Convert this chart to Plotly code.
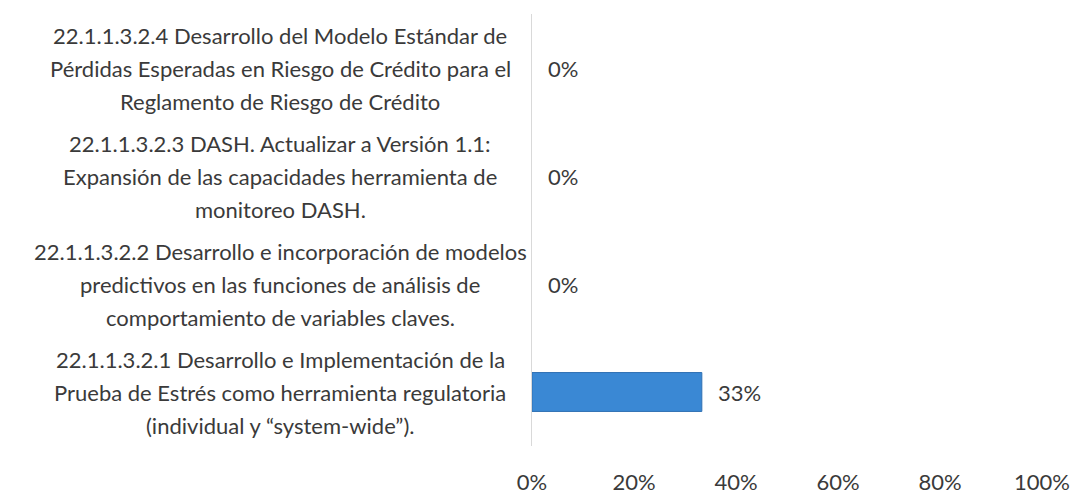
import plotly.graph_objects as go

categories = [
    "22.1.1.3.2.1 Desarrollo e Implementación de la<br>Prueba de Estrés como herramienta regulatoria<br>(individual y “system-wide”).",
    "22.1.1.3.2.2 Desarrollo e incorporación de modelos<br>predictivos en las funciones de análisis de<br>comportamiento de variables claves.",
    "22.1.1.3.2.3 DASH. Actualizar a Versión 1.1:<br>Expansión de las capacidades herramienta de<br>monitoreo DASH.",
    "22.1.1.3.2.4 Desarrollo del Modelo Estándar de<br>Pérdidas Esperadas en Riesgo de Crédito para el<br>Reglamento de Riesgo de Crédito",
]
values = [33.3, 0, 0, 0]
value_labels = ["33%", "0%", "0%", "0%"]
tick_vals = [0, 20, 40, 60, 80, 100]
tick_text = ["0%", "20%", "40%", "60%", "80%", "100%"]

FONT = "Lato"
TXT = "#3a3a3a"

fig = go.Figure()
fig.add_trace(go.Bar(
    y=categories, x=values, orientation="h",
    marker=dict(color="#3a88d4",
                line=dict(color="#2f70b3", width=[1 if v > 0 else 0 for v in values])),
    width=0.36, hoverinfo="skip",
))

annotations = []
LINE = 33
for cat, v, lab in zip(categories, values, value_labels):
    lines = cat.split("<br>")
    n = len(lines)
    for i, ln in enumerate(lines):
        annotations.append(dict(
            x=-0.494, xref="paper", y=cat, yref="y",
            text=ln, showarrow=False, xanchor="center",
            yshift=((n - 1) / 2 - i) * LINE,
            font=dict(family=FONT, size=22, color=TXT),
        ))
    annotations.append(dict(
        x=v, xref="x", y=cat, yref="y", text=lab, showarrow=False,
        xanchor="left", xshift=14, font=dict(family=FONT, size=22, color=TXT),
    ))

fig.update_layout(
    width=1088, height=493,
    margin=dict(l=524, r=54, t=6, b=55),
    paper_bgcolor="white", plot_bgcolor="white",
    showlegend=False,
    annotations=annotations,
    xaxis=dict(range=[0, 100], tickvals=tick_vals, ticktext=tick_text,
               showgrid=False, zeroline=False, showline=False,
               ticklabelstandoff=21, automargin=False,
               tickfont=dict(family=FONT, size=22, color=TXT), fixedrange=True),
    yaxis=dict(showticklabels=False, showgrid=False, zeroline=False,
               showline=True, linecolor="#d9d9d9", linewidth=1, automargin=False,
               range=[-0.5, 3.5], fixedrange=True),
)

fig.write_html("out.html")
